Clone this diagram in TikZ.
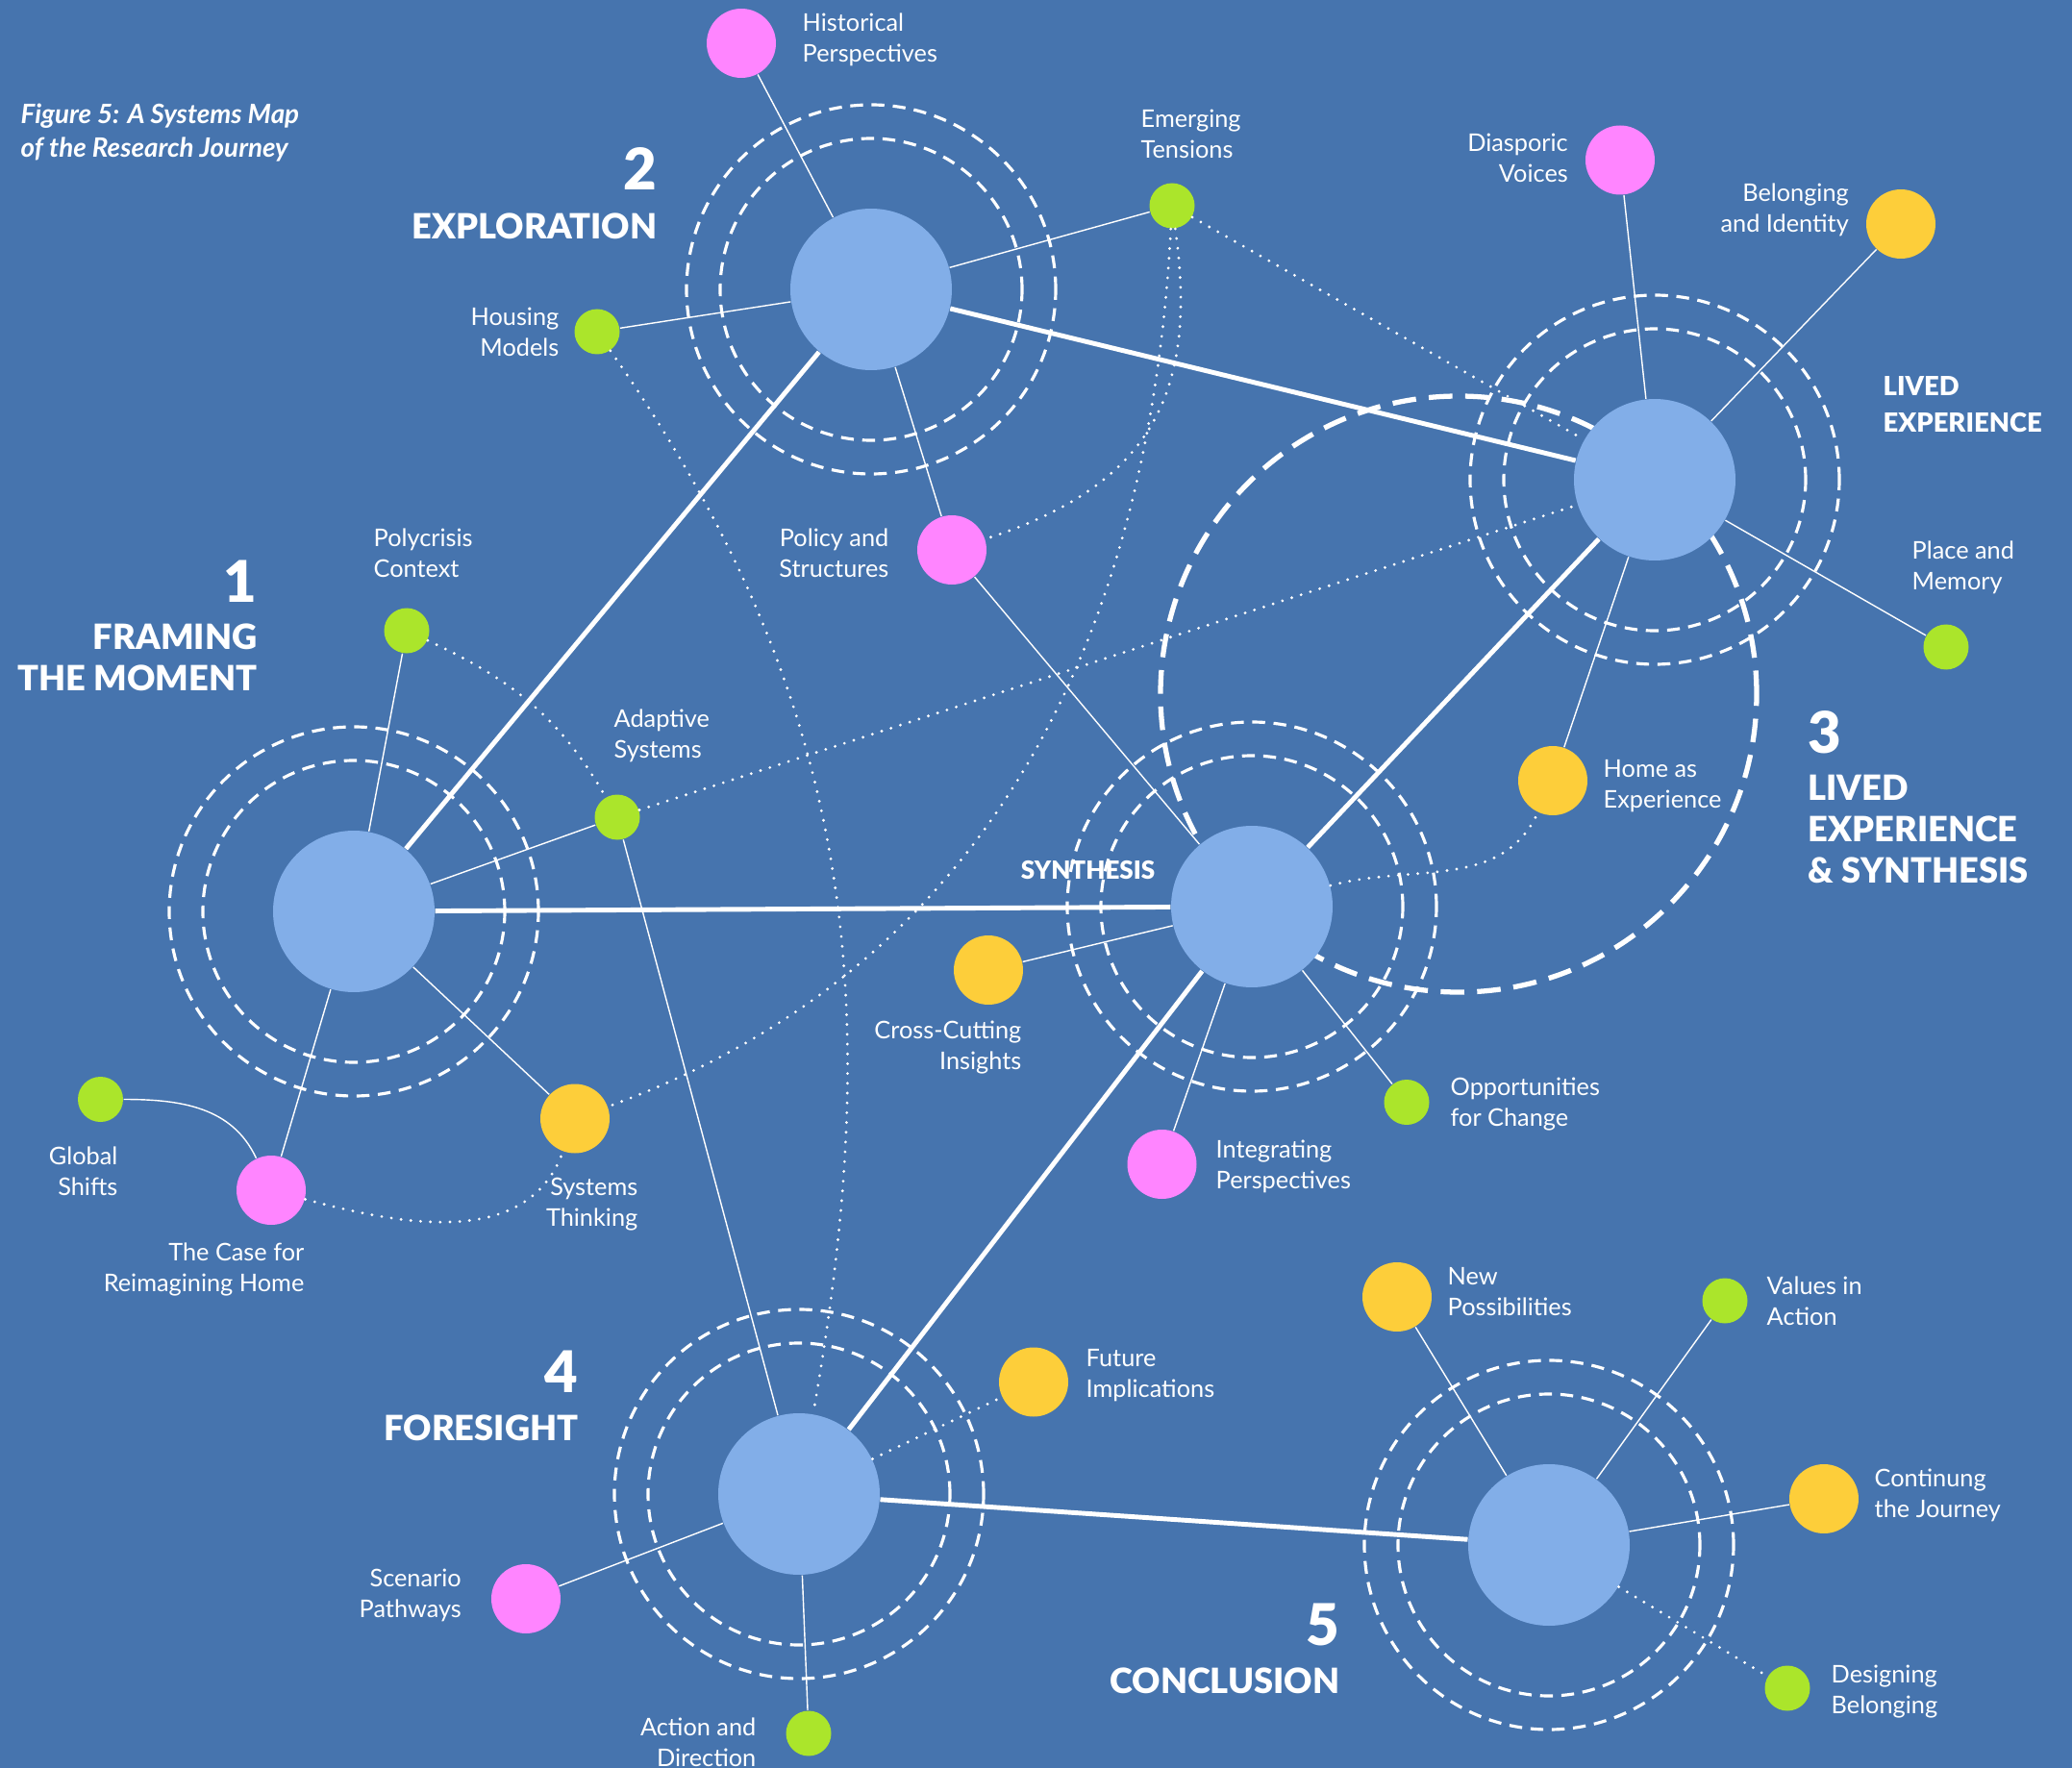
\documentclass[tikz,border=0pt]{standalone}
\usepackage{fontspec}
\setmainfont{Lato}
\newfontfamily\heavyfont{Lato Black}

\definecolor{mapbg}{HTML}{4674AE}
\definecolor{hubblue}{HTML}{82AEE8}
\definecolor{dotpink}{HTML}{FF85FF}
\definecolor{dotyellow}{HTML}{FDCE3A}
\definecolor{dotgreen}{HTML}{ABE52B}

\tikzset{
  hub/.style={circle, fill=hubblue, minimum size=1.68cm, inner sep=0pt},
  pinkdot/.style={circle, fill=dotpink, minimum size=0.72cm, inner sep=0pt},
  yellowdot/.style={circle, fill=dotyellow, minimum size=0.72cm, inner sep=0pt},
  greendot/.style={circle, fill=dotgreen, minimum size=0.47cm, inner sep=0pt},
  ring/.style={white, line width=0.9pt, dash pattern=on 3.8pt off 2.5pt},
  bigring/.style={white, line width=1.5pt, dash pattern=on 7pt off 3.8pt},
  thinlink/.style={white, line width=0.4pt},
  thicklink/.style={white, line width=1.4pt},
  dotlink/.style={white, line width=0.9pt, dash pattern=on 0pt off 2.9pt, line cap=round},
  lbl/.style={text=white, inner sep=0pt, font=\fontsize{7.2}{9.1}\selectfont},
  stagehead/.style={text=white, inner sep=0pt, font=\heavyfont\fontsize{10.3}{12.2}\selectfont},
  stagenum/.style={text=white, inner sep=0pt, font=\heavyfont\fontsize{17}{17}\selectfont},
}

\begin{document}
\begin{tikzpicture}

\useasboundingbox (0,0) rectangle (21.55,-18.39);
\fill[mapbg] (0,0) rectangle (21.55,-18.39);

% big ring round lived experience and synthesis
\coordinate (lived) at (15.17,-7.22);
\draw[bigring] (lived) circle (3.10);

% hubs
\node[hub] (h1) at (3.68,-9.48) {};
\node[hub] (h2) at (9.06,-3.01) {};
\node[hub] (h3) at (17.21,-4.99) {};
\node[hub] (hs) at (13.02,-9.43) {};
\node[hub] (h4) at (8.31,-15.54) {};
\node[hub] (h5) at (16.11,-16.07) {};

\foreach \h in {h1,h2,h3,hs,h4,h5}
  \draw[ring] (\h) circle (1.57) (\h) circle (1.92);

% satellites
\node[pinkdot] (hist) at (7.71,-0.45) {};
\node[greendot] (emerg) at (12.19,-2.14) {};
\node[greendot] (housing) at (6.21,-3.45) {};
\node[pinkdot] (policy) at (9.90,-5.72) {};
\node[greendot] (poly) at (4.23,-6.56) {};
\node[greendot] (adapt) at (6.42,-8.50) {};
\node[yellowdot] (systh) at (5.98,-11.635) {};
\node[pinkdot] (casefor) at (2.82,-12.38) {};
\node[greendot] (glob) at (1.045,-11.435) {};
\node[pinkdot] (diasp) at (16.85,-1.665) {};
\node[yellowdot] (belong) at (19.77,-2.33) {};
\node[greendot] (place) at (20.24,-6.73) {};
\node[yellowdot] (home) at (16.15,-8.12) {};
\node[yellowdot] (cross) at (10.28,-10.09) {};
\node[pinkdot] (integ) at (12.085,-12.11) {};
\node[greendot] (oppor) at (14.63,-11.465) {};
\node[yellowdot] (future) at (10.75,-14.375) {};
\node[pinkdot] (scen) at (5.47,-16.63) {};
\node[greendot] (action) at (8.41,-18.03) {};
\node[yellowdot] (newp) at (14.53,-13.49) {};
\node[greendot] (values) at (17.94,-13.53) {};
\node[yellowdot] (contin) at (18.97,-15.59) {};
\node[greendot] (design) at (18.59,-17.56) {};

% main path
\draw[thicklink] (h1) -- (h2);
\draw[thicklink] (h1) -- (hs);
\draw[thicklink] (h2) -- (h3);
\draw[thicklink] (h3) -- (hs);
\draw[thicklink] (hs) -- (h4);
\draw[thicklink] (h4) -- (h5);

% spokes
\draw[thinlink] (h2) -- (hist);
\draw[thinlink] (h2) -- (emerg);
\draw[thinlink] (h2) -- (housing);
\draw[thinlink] (h2) -- (policy);
\draw[thinlink] (policy) -- (hs);
\draw[thinlink] (h1) -- (poly);
\draw[thinlink] (h1) -- (adapt);
\draw[thinlink] (h1) -- (systh);
\draw[thinlink] (h1) -- (casefor);
\draw[thinlink] (glob) to[out=0,in=115] (casefor);
\draw[thinlink] (adapt) -- (h4);
\draw[thinlink] (h3) -- (diasp);
\draw[thinlink] (h3) -- (belong);
\draw[thinlink] (h3) -- (place);
\draw[thinlink] (h3) -- (home);
\draw[thinlink] (hs) -- (cross);
\draw[thinlink] (hs) -- (integ);
\draw[thinlink] (hs) -- (oppor);
\draw[thinlink] (h4) -- (scen);
\draw[thinlink] (h4) -- (action);
\draw[thinlink] (h5) -- (newp);
\draw[thinlink] (h5) -- (values);
\draw[thinlink] (h5) -- (contin);

% dotted threads
\draw[dotlink] (poly) to[out=-25,in=120] (adapt);
\draw[dotlink] (adapt) -- (h3);
\draw[dotlink] (emerg) -- (h3);
\draw[dotlink] (emerg) to[out=-82,in=18,looseness=1.2] (policy);
\draw[dotlink] (emerg) to[out=-93,in=20] (systh);
\draw[dotlink] (housing) to[out=-55,in=80] (h4);
\draw[dotlink] (casefor) to[out=-15,in=-110] (systh);
\draw[dotlink] (hs) to[out=15,in=-115] (home);
\draw[dotlink] (h4) -- (future);
\draw[dotlink] (h5) -- (design);

% labels
\node[lbl, anchor=west, align=left] (histlbl) at (8.34,-0.41) {Historical\\Perspectives};
\node[lbl, anchor=west, align=left] (emerglbl) at (11.86,-1.39) {Emerging\\Tensions};
\node[lbl, anchor=east, align=right] (housinglbl) at (5.82,-3.45) {Housing\\Models};
\node[lbl, anchor=east, align=right] (policylbl) at (9.25,-5.75) {Policy and\\Structures};
\node[lbl, anchor=west, align=left] (polylbl) at (3.88,-5.75) {Polycrisis\\Context};
\node[lbl, anchor=west, align=left] (adaptlbl) at (6.38,-7.65) {Adaptive\\Systems};
\node[lbl, anchor=east, align=right] (systhlbl) at (6.64,-12.525) {Systems\\Thinking};
\node[lbl, anchor=east, align=right] (caseforlbl) at (3.17,-13.205) {The Case for\\Reimagining Home};
\node[lbl, anchor=east, align=right] (globlbl) at (1.23,-12.18) {Global\\Shifts};
\node[lbl, anchor=east, align=right] (diasplbl) at (16.315,-1.64) {Diasporic\\Voices};
\node[lbl, anchor=east, align=right] (belonglbl) at (19.235,-2.185) {Belonging\\and Identity};
\node[lbl, anchor=west, align=left] (placelbl) at (19.88,-5.90) {Place and\\Memory};
\node[lbl, anchor=west, align=left] (homelbl) at (16.67,-8.175) {Home as\\Experience};
\node[lbl, anchor=east, align=right] (crosslbl) at (10.63,-10.90) {Cross-Cutting\\Insights};
\node[lbl, anchor=west, align=left] (integlbl) at (12.64,-12.13) {Integrating\\Perspectives};
\node[lbl, anchor=west, align=left] (opporlbl) at (15.08,-11.49) {Opportunities\\for Change};
\node[lbl, anchor=west, align=left] (futurelbl) at (11.29,-14.31) {Future\\Implications};
\node[lbl, anchor=east, align=right] (scenlbl) at (4.805,-16.59) {Scenario\\Pathways};
\node[lbl, anchor=east, align=right] (actionlbl) at (7.87,-18.125) {Action and\\Direction};
\node[lbl, anchor=west, align=left] (newplbl) at (15.05,-13.435) {New\\Possibilities};
\node[lbl, anchor=west, align=left] (valueslbl) at (18.37,-13.53) {Values in\\Action};
\node[lbl, anchor=west, align=left] (continlbl) at (19.49,-15.555) {Continung\\the Journey};
\node[lbl, anchor=west, align=left] (designlbl) at (19.04,-17.60) {Designing\\Belonging};

% stage titles
\node[stagenum, anchor=east] (num1) at (2.68,-6.05) {1};
\node[stagehead, anchor=east, align=right] (head1) at (2.68,-6.835) {FRAMING\\THE MOMENT};
\node[stagenum, anchor=east] (num2) at (6.84,-1.75) {2};
\node[stagehead, anchor=east] (head2) at (6.84,-2.355) {EXPLORATION};
\node[stagenum, anchor=west] (num3) at (18.80,-7.62) {3};
\node[stagehead, anchor=west, align=left] (head3) at (18.80,-8.625) {LIVED\\EXPERIENCE\\\& SYNTHESIS};
\node[stagenum, anchor=east] (num4) at (6.02,-14.27) {4};
\node[stagehead, anchor=east] (head4) at (6.02,-14.855) {FORESIGHT};
\node[stagenum, anchor=east] (num5) at (13.94,-16.90) {5};
\node[stagehead, anchor=east] (head5) at (13.94,-17.485) {CONCLUSION};
\node[stagehead, anchor=east, font=\heavyfont\fontsize{7.4}{9}\selectfont] (synthlbl) at (12.02,-9.05) {SYNTHESIS};
\node[stagehead, anchor=west, align=left, font=\heavyfont\fontsize{7.8}{10.8}\selectfont] (livedlbl) at (19.58,-4.21) {LIVED\\EXPERIENCE};

% title
\node[text=white, inner sep=0pt, anchor=west, align=left, font=\bfseries\itshape\fontsize{7.9}{10}\selectfont] (title) at (0.21,-1.38) {Figure 5: A Systems Map\\of the Research Journey};

\end{tikzpicture}
\end{document}
